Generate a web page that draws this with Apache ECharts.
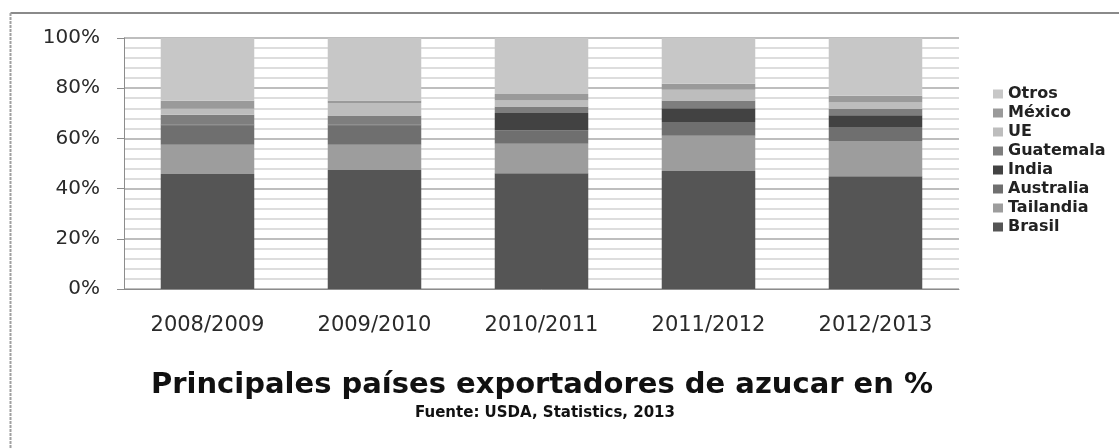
<!DOCTYPE html>
<html>
<head>
<meta charset="utf-8">
<script src="https://cdn.jsdelivr.net/npm/echarts@6/dist/echarts.min.js"></script>
<style>
  html, body { margin: 0; padding: 0; background: #fff; }
  #chart { width: 1119px; height: 448px; }
</style>
</head>
<body>
<div id="chart"></div>
<script>
// Share of world sugar exports by country, per season (%)
const seasons   = ['2008/2009', '2009/2010', '2010/2011', '2011/2012', '2012/2013'];
const brasil    = [45.8, 47.4, 46.1, 47.0, 44.9];
const tailandia = [11.7, 10.1, 11.8, 14.1, 14.1];
const australia = [7.7, 7.7, 5.3, 5.4, 5.5];
const india     = [0.3, 0.3, 6.9, 5.5, 4.7];
const guatemala = [3.9, 3.6, 2.6, 3.1, 2.5];
const ue        = [2.4, 5.0, 2.4, 4.3, 2.6];
const mexico    = [3.2, 1.0, 2.6, 2.4, 2.7];
const otros     = [25.0, 24.9, 22.3, 18.2, 23.0];
const yTicks    = [0, 20, 40, 60, 80, 100];

// stacked bottom to top
const layers = [
  { name: 'Brasil',    data: brasil,    color: '#555555' },
  { name: 'Tailandia', data: tailandia, color: '#9d9d9d' },
  { name: 'Australia', data: australia, color: '#6f6f6f' },
  { name: 'India',     data: india,     color: '#424242' },
  { name: 'Guatemala', data: guatemala, color: '#7e7e7e' },
  { name: 'UE',        data: ue,        color: '#bdbdbd' },
  { name: 'México',    data: mexico,    color: '#9a9a9a' },
  { name: 'Otros',     data: otros,     color: '#c7c7c7' }
];

const chart = echarts.init(document.getElementById('chart'), null, { renderer: 'canvas' });

chart.setOption({
  backgroundColor: '#ffffff',
  animation: false,
  textStyle: { fontFamily: 'DejaVu Sans' },
  title: [
    {
      text: 'Principales países exportadores de azucar en %',
      left: 537, top: 366, textAlign: 'center',
      textStyle: { fontFamily: 'DejaVu Sans', fontWeight: 'bold', fontSize: 29, color: '#111' }
    },
    {
      text: 'Fuente: USDA, Statistics, 2013',
      left: 540, top: 401, textAlign: 'center',
      textStyle: { fontFamily: 'DejaVu Sans', fontWeight: 'bold', fontSize: 15, color: '#111' }
    }
  ],
  legend: {
    orient: 'vertical',
    left: 988, top: 81,
    itemWidth: 10, itemHeight: 9, itemGap: 3,
    icon: 'rect',
    data: layers.map(l => l.name).reverse(),
    textStyle: { fontFamily: 'DejaVu Sans', fontWeight: 'bold', fontSize: 16, lineHeight: 16, color: '#222' }
  },
  graphic: [
    { type: 'line', shape: { x1: 10.5, y1: 13, x2: 1119, y2: 13 }, style: { stroke: '#8a8a8a', lineWidth: 2 } },
    { type: 'line', shape: { x1: 10.5, y1: 13, x2: 10.5, y2: 448 }, style: { stroke: '#a0a0a0', lineWidth: 2, lineDash: [3, 1] } }
  ],
  grid: { left: 124, right: 160, top: 38, bottom: 159, containLabel: false },
  xAxis: {
    type: 'category',
    data: seasons,
    axisLine: { show: true, lineStyle: { color: '#8c8c8c', width: 1 } },
    axisTick: { show: false },
    axisLabel: { margin: 26, fontSize: 21, color: '#2a2a2a', fontFamily: 'DejaVu Sans' },
    splitLine: { show: false }
  },
  yAxis: {
    type: 'value',
    min: yTicks[0], max: yTicks[yTicks.length - 1], interval: yTicks[1] - yTicks[0],
    axisLine: { show: true, lineStyle: { color: '#8c8c8c', width: 1 } },
    axisTick: { show: true, length: 7, lineStyle: { color: '#8c8c8c' } },
    axisLabel: { margin: 24, fontSize: 20, color: '#2a2a2a', fontFamily: 'DejaVu Sans', formatter: '{value}%' },
    splitLine: { show: true, lineStyle: { color: '#a8a8a8', width: 1.5 } },
    minorTick: { show: false, splitNumber: 5 },
    minorSplitLine: { show: true, lineStyle: { color: '#d2d2d2', width: 1.5 } }
  },
  series: layers.map(l => ({
    name: l.name,
    type: 'bar',
    stack: 'total',
    barWidth: '56%',
    data: l.data,
    itemStyle: { color: l.color }
  }))
});
</script>
</body>
</html>
